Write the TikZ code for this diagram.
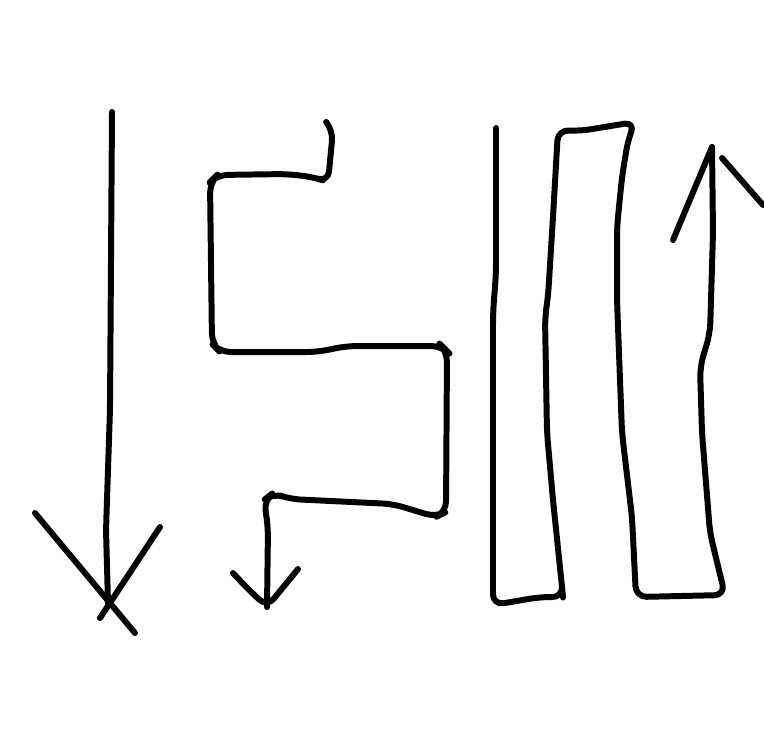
\documentclass[tikz,border=0pt]{standalone}
\usetikzlibrary{positioning}
\begin{document}
\begin{tikzpicture}[x=0.01cm,y=-0.01cm,pen/.style={line width=1.7pt,line cap=round,line join=round,rounded corners=3pt}]
  \useasboundingbox (0,0) rectangle (764,735);

  % straight arrow down
  \coordinate (tipa) at (108,603);
  \draw[pen] (112,112) -- (110,409) -- (106,530) -- (tipa);
  \draw[pen] (35,513) -- (135,633);
  \draw[pen] (160,527) -- (100,618);

  % zigzag arrow
  \coordinate (tipb) at (267,607);
  \draw[pen] (327,123) -- (333,130) -- (328,182) -- (313,177) -- (287,174) -- (217,175) -- (210,182)
    -- (212,344) -- (220,352) -- (317,352) -- (347,346) -- (442,346) -- (447,351)
    -- (446,512) -- (436,517) -- (393,504) -- (290,499) -- (273,493) -- (264,500)
    -- (268,527) -- (tipb);
  \draw[pen] (233,573) -- (247,588) -- (tipb) -- (298,569);

  % folded strip going up
  \coordinate (tipc) at (712,147);
  \draw[pen] (496,128) -- (496,273) -- (493,313) -- (493,605) -- (540,597) -- (563,597)
    -- (562,587) -- (553,500) -- (547,433) -- (545,317) -- (548,297) -- (553,217) -- (558,130)
    -- (580,131) -- (635,122) -- (628,140) -- (622,177) -- (617,227) -- (617,300)
    -- (622,433) -- (632,517) -- (636,597) -- (725,595) -- (710,533) -- (702,433)
    -- (700,367) -- (710,333) -- (713,233) -- (tipc);
  \draw[pen] (673,240) -- (tipc);
  \draw[pen] (722,158) -- (763,205);
\end{tikzpicture}
\end{document}
